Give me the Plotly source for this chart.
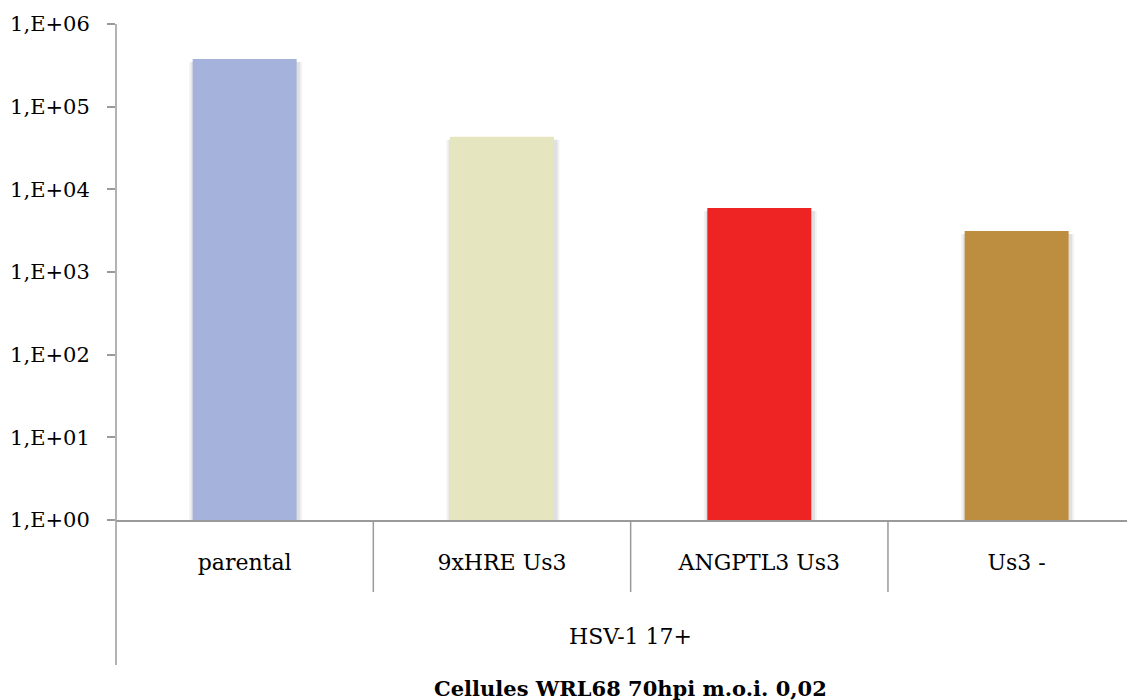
import plotly.graph_objects as go

categories = ["parental", "9xHRE Us3", "ANGPTL3 Us3", "Us3 -"]
values = [3.77e5, 4.33e4, 5.94e3, 3.13e3]
colors = ["#A5B2DB", "#E5E6BF", "#EE2424", "#BD8D40"]
y_tickvals = [1, 10, 100, 1e3, 1e4, 1e5, 1e6]
y_ticktext = ["1,E+00", "1,E+01", "1,E+02", "1,E+03", "1,E+04", "1,E+05", "1,E+06"]
group_label = "HSV-1 17+"
title_text = "Cellules WRL68 70hpi m.o.i. 0,02"

FONT = "DejaVu Serif"
AXC = "#9a9a9a"
TXT = "#000000"

OFF = 8  # page body margin
W, H = 1135 - OFF, 700 - OFF
m_l, m_t = 116 - OFF, 24 - OFF
plot_bottom = 520 - OFF
m_b = H - plot_bottom
plot_h = plot_bottom - m_t

xs = list(range(len(categories)))
bar_w = 0.404
px_per_cat = (W - m_l) / 3.96
shadow_vals = [v * 10 ** (-3 / 82.67) for v in values]

fig = go.Figure()
# soft shadow layers
for extra, alpha in [(9, 0.05), (5, 0.07)]:
    fig.add_trace(go.Bar(
        x=[x + 1.0 / px_per_cat for x in xs], y=shadow_vals,
        marker=dict(color=f"rgba(0,0,0,{alpha})", line=dict(width=0)),
        width=bar_w + extra / px_per_cat, showlegend=False, hoverinfo="skip",
    ))
fig.add_trace(go.Bar(
    x=xs, y=values, marker=dict(color=colors, line=dict(width=0)),
    width=bar_w, showlegend=False,
))

def py(page_y):
    fy = page_y - OFF
    return (plot_bottom - fy) / plot_h

shapes = []
shapes.append(dict(type="line", xref="paper", yref="paper", x0=0, x1=0,
                   y0=1, y1=py(665), line=dict(color=AXC, width=1.5)))
for b in [0.5, 1.5, 2.5]:
    shapes.append(dict(type="line", xref="x", yref="paper", x0=b, x1=b,
                       y0=0, y1=py(592), line=dict(color=AXC, width=1.5)))

annotations = [
    dict(x=1.5, xref="x", y=py(636), yref="paper", text=group_label,
         showarrow=False, font=dict(family=FONT, size=22, color=TXT),
         xanchor="center", yanchor="middle"),
    dict(x=1.5, xref="x", y=py(688), yref="paper", text="<b>" + title_text + "</b>",
         showarrow=False, font=dict(family=FONT, size=21, color=TXT),
         xanchor="center", yanchor="middle"),
]

fig.update_layout(
    width=W, height=H,
    margin=dict(l=m_l, r=0, t=m_t, b=m_b),
    paper_bgcolor="white", plot_bgcolor="white",
    shapes=shapes, annotations=annotations,
    barmode="overlay",
    xaxis=dict(
        range=[-0.5, 3.46], tickvals=xs, ticktext=categories,
        showline=True, linecolor=AXC, linewidth=1.5,
        showgrid=False, zeroline=False, ticks="",
        tickfont=dict(family=FONT, size=22, color=TXT),
        ticklabelstandoff=22,
    ),
    yaxis=dict(
        type="log", range=[0, 6], tickvals=y_tickvals, ticktext=y_ticktext,
        showline=False, showgrid=False, zeroline=False,
        ticks="outside", ticklen=8, tickcolor=AXC, tickwidth=1.5,
        tickfont=dict(family=FONT, size=21, color=TXT),
        ticklabelstandoff=13,
    ),
)

fig.write_html("out.html")
